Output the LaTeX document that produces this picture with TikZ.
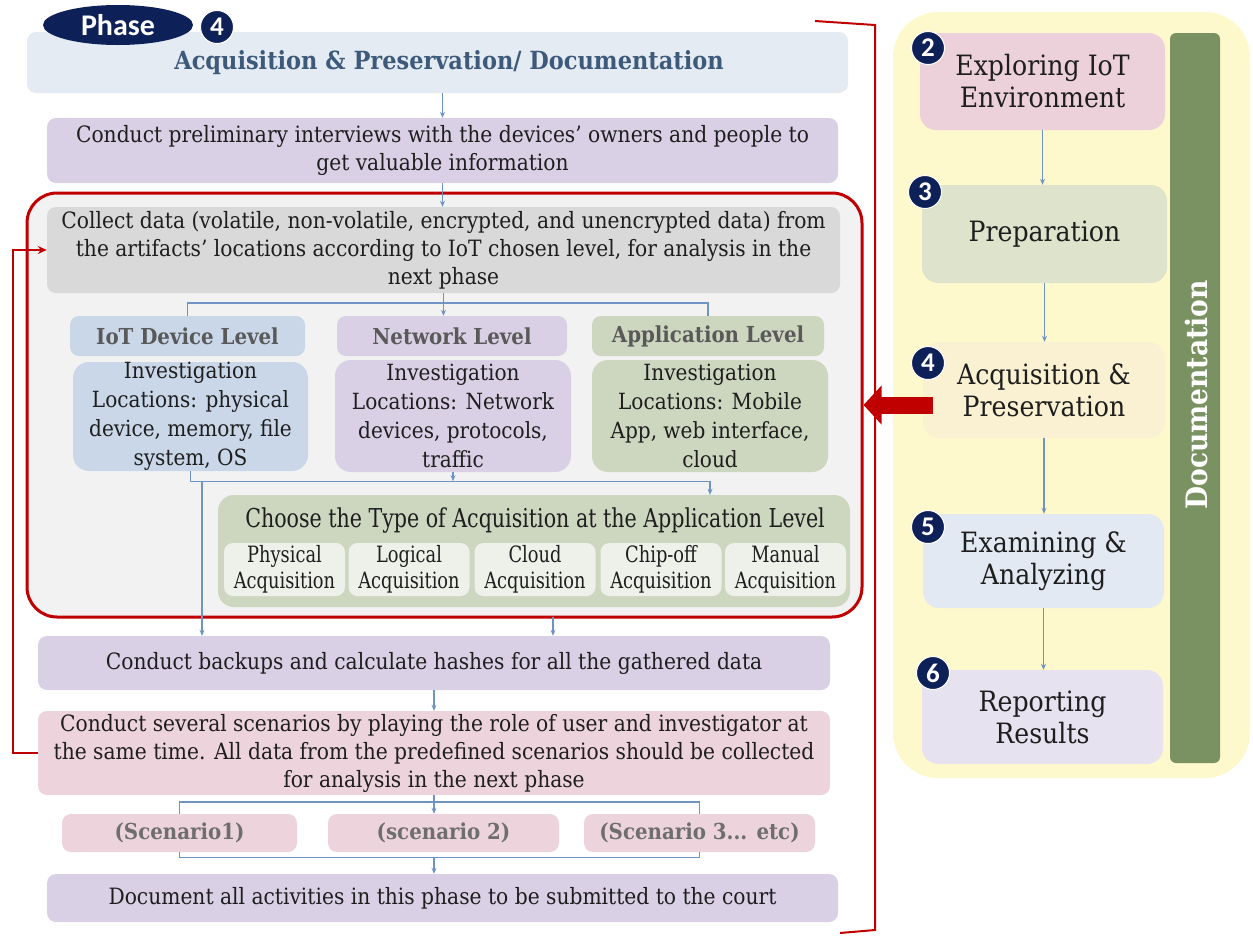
\documentclass[tikz,border=0pt]{standalone}
\usepackage{fontspec}
\setmainfont{DejaVu Serif Condensed}
\newfontfamily\labelfont{Carlito}
\newfontfamily\narrowfont[FakeStretch=0.88]{DejaVu Serif Condensed}
\usetikzlibrary{shapes.geometric,arrows.meta,calc}

\definecolor{navy}{RGB}{14,32,88}
\definecolor{titlebg}{RGB}{228,235,243}
\definecolor{titletext}{RGB}{62,90,122}
\definecolor{lav}{RGB}{217,208,229}
\definecolor{collectbg}{RGB}{217,217,217}
\definecolor{framebg}{RGB}{242,242,242}
\definecolor{iotblue}{RGB}{201,215,233}
\definecolor{appgreen}{RGB}{205,214,191}
\definecolor{headgray}{RGB}{89,89,89}
\definecolor{subbg}{RGB}{238,241,234}
\definecolor{scenpink}{RGB}{237,212,220}
\definecolor{scengray}{RGB}{110,110,110}
\definecolor{panelyellow}{RGB}{254,249,204}
\definecolor{docgreen}{RGB}{122,146,98}
\definecolor{stepA}{RGB}{236,209,219}
\definecolor{stepB}{RGB}{222,228,204}
\definecolor{stepC}{RGB}{250,241,210}
\definecolor{stepD}{RGB}{226,233,242}
\definecolor{stepE}{RGB}{231,226,240}
\definecolor{lineblue}{RGB}{111,148,196}
\definecolor{darkred}{RGB}{192,0,0}
\definecolor{txt}{RGB}{30,30,30}

\newcommand\fsBody{\fontsize{22.5}{28}\selectfont}
\newcommand\fsLoc{\fontsize{22.3}{29}\selectfont}
\newcommand\fsHead{\bfseries\fontsize{22}{24}\selectfont}
\newcommand\fsStep{\fontsize{28}{32}\selectfont}
\newcommand\fsSub{\narrowfont\fontsize{22.5}{25.5}\selectfont}

\begin{document}
\begin{tikzpicture}[x=1pt,y=-1pt,
  box/.style={rounded corners=9pt, align=center, inner sep=0pt, text=txt, font=\fsBody},
  stepbox/.style={rounded corners=16pt, align=center, inner sep=0pt, text=txt, font=\fsStep},
  numdot/.style={circle, fill=navy, draw=white, line width=1pt, minimum size=33pt, inner sep=0pt,
    text=white, font=\labelfont\bfseries\fontsize{27}{27}\selectfont},
  conn/.style={draw=lineblue, line width=1.4pt},
  arr/.style={conn, -{Stealth[length=6pt,width=5pt]}},
  feedback/.style={draw=darkred, line width=2.5pt, -{Stealth[length=9pt,width=8pt]}},
  bigred/.style={draw=darkred, line width=17pt, -{Triangle[length=18pt,width=38pt]}},
]
\useasboundingbox (0,0) rectangle (1253,935);

% right-hand overview panel
\node[fill=panelyellow, rounded corners=45pt, minimum width=357pt, minimum height=766pt, inner sep=0pt] (panel) at (1071.5,395) {};
\node[fill=docgreen, rounded corners=6pt, minimum width=50pt, minimum height=730pt, inner sep=0pt] (docbar) at (1195,398) {};
\node[rotate=90, text=white, font=\bfseries\fontsize{29.5}{30}\selectfont] (doclabel) at (1196,395) {Documentation};

\node[stepbox, fill=stepA, minimum width=245pt, minimum height=97pt] (p2) at (1042.5,81.5) {Exploring IoT\\Environment};
\node[stepbox, fill=stepB, minimum width=245pt, minimum height=98pt] (p3) at (1044.5,234) {Preparation};
\node[stepbox, fill=stepC, minimum width=242pt, minimum height=96pt] (p4) at (1044,390) {Acquisition \&\\Preservation};
\node[stepbox, fill=stepD, minimum width=241pt, minimum height=94pt] (p5) at (1043.5,561) {Examining \&\\Analyzing};
\node[stepbox, fill=stepE, minimum width=241pt, minimum height=94pt] (p6) at (1042.5,717) {Reporting\\Results};

\node[numdot] (n2) at (928,48) {2};
\node[numdot] (n3) at (925,192) {3};
\node[numdot] (n4) at (928,363) {4};
\node[numdot] (n5) at (928,527) {5};
\node[numdot] (n6) at (933,673) {6};

\draw[arr] (p2.south) -- (p2.south |- p3.north);
\draw[arr] (p3.south) -- (p3.south |- p4.north);
\draw[arr] (p4.south) -- (p4.south |- p5.north);
\draw[arr] (p5.south) -- (p5.south |- p6.north);

% phase heading
\node[box, fill=titlebg, minimum width=821pt, minimum height=61pt] (title) at (437.5,62.5) {};
\node[text=titletext, inner sep=0pt, font=\bfseries\fontsize{25}{28}\selectfont] (titleT) at (449,63)
  {Acquisition \& Preservation/ Documentation};
\node[ellipse, fill=navy, minimum width=150pt, minimum height=40pt, inner sep=0pt, text=white,
  font=\labelfont\bfseries\fontsize{30}{30}\selectfont] (phase) at (118,25) {Phase};
\node[numdot] (n4b) at (217,27) {4};

\node[box, fill=lav, minimum width=791pt, minimum height=65pt] (prelim) at (442.5,150.5)
  {Conduct preliminary interviews with the devices’ owners and people to\\get valuable information};

% collection frame
\node[draw=darkred, line width=3pt, fill=framebg, rounded corners=30pt, minimum width=835pt, minimum height=424pt, inner sep=0pt] (frame) at (444.5,405) {};

\node[box, fill=collectbg, minimum width=793pt, minimum height=86pt] (collect) at (443.5,250)
  {Collect data (volatile, non-volatile, encrypted, and unencrypted data) from\\the artifacts’ locations according to IoT chosen level, for analysis in the\\next phase};

\node[box, fill=iotblue, minimum width=235pt, minimum height=40pt, text=headgray, font=\fsHead] (hIoT) at (187.5,336) {IoT Device Level};
\node[box, fill=lav, minimum width=230pt, minimum height=40pt, text=headgray, font=\fsHead] (hNet) at (452,336) {Network Level};
\node[box, fill=appgreen, minimum width=232pt, minimum height=40pt, text=headgray, font=\fsHead] (hApp) at (708,336) {Application Level};

\node[box, rounded corners=16pt, fill=iotblue, minimum width=235pt, minimum height=109pt, font=\fsLoc] (iIoT) at (190.5,416.5)
  {Investigation\\Locations: physical\\device, memory, file\\system, OS};
\node[box, rounded corners=16pt, fill=lav, minimum width=236pt, minimum height=112pt, font=\fsLoc] (iNet) at (453,416)
  {Investigation\\Locations: Network\\devices, protocols,\\traffic};
\node[box, rounded corners=16pt, fill=appgreen, minimum width=236pt, minimum height=112pt, font=\fsLoc] (iApp) at (710,416)
  {Investigation\\Locations: Mobile\\App, web interface,\\cloud};

\node[box, rounded corners=16pt, fill=appgreen, minimum width=632pt, minimum height=112pt] (choose) at (534,551) {};
\node[text=txt, font=\narrowfont\fontsize{26}{28}\selectfont, inner sep=0pt] (chooseT) at (535,521)
  {Choose the Type of Acquisition at the Application Level};
\node[box, fill=subbg, minimum width=121pt, minimum height=53pt, font=\fsSub] (a1) at (284.5,569.5) {Physical\\Acquisition};
\node[box, fill=subbg, minimum width=121pt, minimum height=53pt, font=\fsSub] (a2) at (409,569.5) {Logical\\Acquisition};
\node[box, fill=subbg, minimum width=121pt, minimum height=53pt, font=\fsSub] (a3) at (535,569.5) {Cloud\\Acquisition};
\node[box, fill=subbg, minimum width=121pt, minimum height=53pt, font=\fsSub] (a4) at (661,569.5) {Chip-off\\Acquisition};
\node[box, fill=subbg, minimum width=121pt, minimum height=53pt, font=\fsSub] (a5) at (785.5,569.5) {Manual\\Acquisition};

% after the frame
\node[box, fill=lav, minimum width=792pt, minimum height=54pt] (backups) at (434,663)
  {Conduct backups and calculate hashes for all the gathered data};
\node[box, fill=scenpink, minimum width=792pt, minimum height=84pt] (scen) at (434,753)
  {Conduct several scenarios by playing the role of user and investigator at\\the same time. All data from the predefined scenarios should be collected\\for analysis in the next phase};
\node[box, fill=scenpink, minimum width=235pt, minimum height=38pt, text=scengray, font=\fsHead] (s1) at (179.5,833) {(Scenario1)};
\node[box, fill=scenpink, minimum width=231pt, minimum height=38pt, text=scengray, font=\fsHead] (s2) at (443.5,833) {(scenario 2)};
\node[box, fill=scenpink, minimum width=231pt, minimum height=38pt, text=scengray, font=\fsHead] (s3) at (699.5,833) {(Scenario 3... etc)};
\node[box, fill=lav, minimum width=791pt, minimum height=48pt] (doc) at (442.5,898)
  {Document all activities in this phase to be submitted to the court};

% connectors
\draw[arr] (title.south -| prelim.north) -- (prelim.north);
\draw[arr] (prelim.south) -- (prelim.south |- collect.north);
\draw[conn] (hIoT.north) -- ++(0,-13) -| (hApp.north);
\draw[arr] (collect.south) -- (collect.south |- hNet.north);
\draw[arr] (iIoT.south) -- ++(0,10) -| (choose.north -| iApp.south);
\draw[arr] (iNet.south) -- ++(0,9);
\coordinate (j1) at (202,481);
\draw[arr] (j1) -- (j1 |- backups.north);
\coordinate (j2) at (553,617);
\draw[arr] (j2) -- (j2 |- backups.north);
\draw[arr] (backups.south) -- (scen.north);
\draw[conn] (s1.north) -- ++(0,-12) -| (s3.north);
\draw[arr] (scen.south) -- (scen.south |- s2.north);
\draw[conn] (s1.south) -- ++(0,5) -| (s3.south);
\coordinate (j3) at (434,857);
\draw[arr] (j3) -- (j3 |- doc.north);
\draw[feedback] (scen.west) -- ++(-25,0) |- (collect.west);

% bracket tying the phase to the overview
\draw[darkred, line width=2pt] (815,21) -- (875,25) -- (875,930) -- (840,933);
\path ([xshift=10pt,yshift=-15pt]p4.west) coordinate (ra);
\draw[bigred] (ra) -- (ra -| frame.east);
\end{tikzpicture}
\end{document}
